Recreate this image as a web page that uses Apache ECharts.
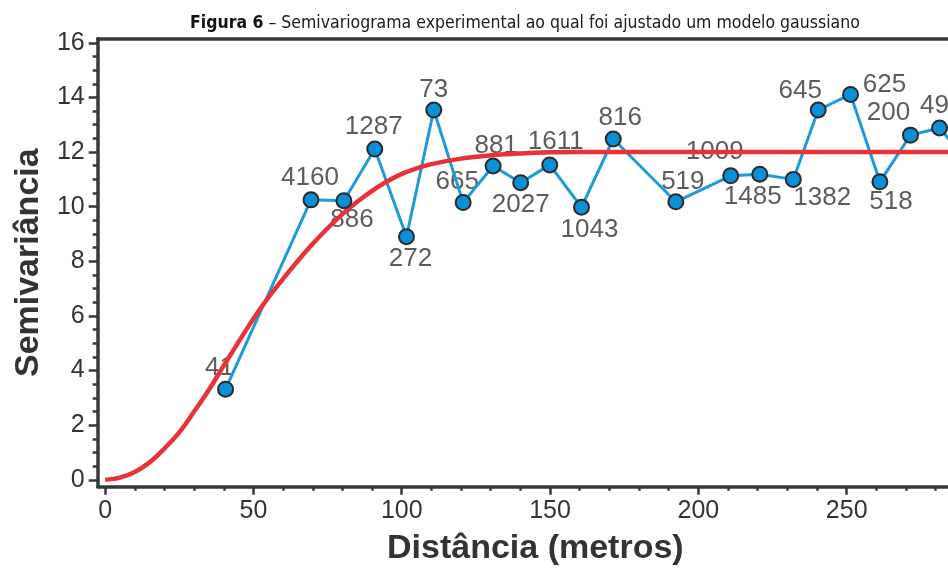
<!DOCTYPE html>
<html>
<head>
<meta charset="utf-8">
<script src="https://cdn.jsdelivr.net/npm/echarts@6/dist/echarts.min.js"></script>
<style>
html,body{margin:0;padding:0;background:#fff;overflow:hidden;width:948px;height:571px;}
#c{width:1000px;height:571px;}
</style>
</head>
<body>
<div id="c"></div>
<script>
// ---- data ----
const distances = [40.6, 69.4, 80.5, 90.9, 101.6, 110.8, 120.7, 130.8, 140.1, 149.9, 160.6, 171.3, 192.4, 210.9, 220.7, 232.0, 240.4, 251.3, 261.2, 271.5, 281.3, 292.0];
const semivariance = [3.32, 10.25, 10.22, 12.11, 8.90, 13.54, 10.15, 11.49, 10.88, 11.53, 9.98, 12.48, 10.18, 11.13, 11.19, 11.00, 13.54, 14.11, 10.91, 12.62, 12.88, 11.5];
const pairCounts = ['41', '4160', '886', '1287', '272', '73', '665', '881', '2027', '1611', '1043', '816', '519', '1009', '1485', '1382', '645', '625', '518', '200', '49', ''];

// fitted gaussian model curve
const modelX = [0, 5, 10, 15, 20, 25, 30, 35, 40, 45, 50, 55, 60, 65, 70, 75, 80, 85, 90, 95, 100, 105, 110, 120, 130, 140, 150, 160, 180, 200, 220, 240, 260, 280, 300];
const modelY = [0, 0.08, 0.29, 0.64, 1.15, 1.74, 2.5, 3.3, 4.18, 5.05, 5.9, 6.67, 7.36, 8.02, 8.64, 9.21, 9.73, 10.18, 10.58, 10.92, 11.2, 11.4, 11.56, 11.76, 11.88, 11.95, 11.99, 12.0, 12.0, 12.0, 12.0, 12.0, 12.0, 12.0, 12.0];

const xMajorTicks = [0, 50, 100, 150, 200, 250, 300];
const xMinorTicks = [10, 20, 30, 40, 60, 70, 80, 90, 110, 120, 130, 140, 160, 170, 180, 190, 210, 220, 230, 240, 260, 270, 280, 290];
const yMajorTicks = [0, 2, 4, 6, 8, 10, 12, 14, 16];
const yMinorTicks = [0.5, 1, 1.5, 2.5, 3, 3.5, 4.5, 5, 5.5, 6.5, 7, 7.5, 8.5, 9, 9.5, 10.5, 11, 11.5, 12.5, 13, 13.5, 14.5, 15, 15.5];

// label placement (label centre relative to the marker, px)
const labelOffsets = [[-6,-21],[-1,-22],[8,19],[-1,-22],[4,22],[0,-20],[-6,-21],[3,-20],[0,22],[6,-23],[8,23],[7,-21],[7,-20],[-16,-24],[-7,23],[29,18],[-18,-19],[34,-10],[11,20],[-22,-22],[-5,-22],[0,-22]];

// ---- chart ----
const axisColor = '#383838';
const textColor = '#333333';
const X_MIN = -2.5, X_MAX = 300, Y_MIN = -0.25, Y_MAX = 16.15;

const points = distances.map((d, i) => [d, semivariance[i]]);
const model = modelX.map((d, i) => [d, modelY[i]]);

const labelData = points.map((p, i) => ({
  value: p,
  label: { offset: labelOffsets[i], formatter: pairCounts[i] }
}));

const titleFont = '"Liberation Sans Narrow", "DejaVu Sans Condensed", "Liberation Sans", sans-serif';
const mainFont = '"Liberation Sans", Arial, sans-serif';

const chart = echarts.init(document.getElementById('c'), null, { renderer: 'canvas' });
chart.setOption({
  animation: false,
  backgroundColor: '#fff',
  title: {
    text: '{b|Figura 6} – Semivariograma experimental ao qual foi ajustado um modelo gaussiano',
    left: 185, top: 9,
    textStyle: {
      fontFamily: titleFont, fontSize: 17.5, fontWeight: 'normal', color: '#1a1a1a',
      rich: { b: { fontWeight: 'bold', fontSize: 17.5, color: '#111', fontFamily: titleFont } }
    }
  },
  grid: { left: 97.7, right: 5, top: 38.7, bottom: 84.3, containLabel: false, outerBoundsMode: 'none' },
  xAxis: [
    {
      type: 'value', min: X_MIN, max: X_MAX, position: 'bottom',
      name: 'Distância (metros)', nameLocation: 'middle', nameGap: 45,
      nameTextStyle: { fontFamily: mainFont, fontSize: 34, fontWeight: 'bold', color: textColor, padding: [0, 22, 0, 0] },
      axisLine: { show: true, onZero: false, lineStyle: { color: axisColor, width: 3.5 } },
      axisTick: { show: true, inside: false, length: 8, customValues: xMajorTicks, lineStyle: { color: axisColor, width: 2.5 } },
      axisLabel: { show: true, customValues: xMajorTicks, margin: 12, fontFamily: mainFont, fontSize: 25, color: textColor },
      splitLine: { show: false }
    },
    {
      type: 'value', min: X_MIN, max: X_MAX, position: 'bottom',
      axisLine: { show: false, onZero: false },
      axisTick: { show: true, inside: false, length: 4, customValues: xMinorTicks, lineStyle: { color: axisColor, width: 2.5 } },
      axisLabel: { show: false },
      splitLine: { show: false }
    },
    {
      type: 'value', min: X_MIN, max: X_MAX, position: 'top',
      axisLine: { show: true, onZero: false, lineStyle: { color: axisColor, width: 3.5 } },
      axisTick: { show: false }, axisLabel: { show: false }, splitLine: { show: false }
    }
  ],
  yAxis: [
    {
      type: 'value', min: Y_MIN, max: Y_MAX, position: 'left',
      name: 'Semivariância', nameLocation: 'middle', nameGap: 52, nameRotate: 90,
      nameTextStyle: { fontFamily: mainFont, fontSize: 34, fontWeight: 'bold', color: textColor },
      axisLine: { show: true, onZero: false, lineStyle: { color: axisColor, width: 3.5 } },
      axisTick: { show: true, inside: false, length: 9, customValues: yMajorTicks, lineStyle: { color: axisColor, width: 2.5 } },
      axisLabel: { show: true, customValues: yMajorTicks, margin: 13, fontFamily: mainFont, fontSize: 25, color: textColor },
      splitLine: { show: false }
    },
    {
      type: 'value', min: Y_MIN, max: Y_MAX, position: 'left',
      axisLine: { show: false, onZero: false },
      axisTick: { show: true, inside: false, length: 5, customValues: yMinorTicks, lineStyle: { color: axisColor, width: 2.5 } },
      axisLabel: { show: false },
      splitLine: { show: false }
    }
  ],
  series: [
    {
      name: 'labels', type: 'scatter', xAxisIndex: 0, yAxisIndex: 0, z: 1,
      symbolSize: 1, itemStyle: { color: 'rgba(0,0,0,0)' },
      data: labelData,
      label: { show: true, position: 'inside', fontFamily: mainFont, fontSize: 26, color: textColor },
      silent: true
    },
    {
      name: 'experimental', type: 'line', xAxisIndex: 0, yAxisIndex: 0, z: 2,
      data: points, showSymbol: false, symbol: 'none',
      lineStyle: { color: '#1c9bd8', width: 3 }
    },
    {
      name: 'gaussiano', type: 'line', xAxisIndex: 0, yAxisIndex: 0, z: 3,
      data: model, smooth: 0.4, showSymbol: false, symbol: 'none',
      lineStyle: { color: '#e8323a', width: 4.5 }
    },
    {
      name: 'pontos', type: 'scatter', xAxisIndex: 0, yAxisIndex: 0, z: 4,
      data: points, symbol: 'circle', symbolSize: 15,
      itemStyle: { color: '#0a90d8', borderColor: '#2a2a2a', borderWidth: 2, opacity: 1 }
    }
  ]
});
</script>
</body>
</html>
